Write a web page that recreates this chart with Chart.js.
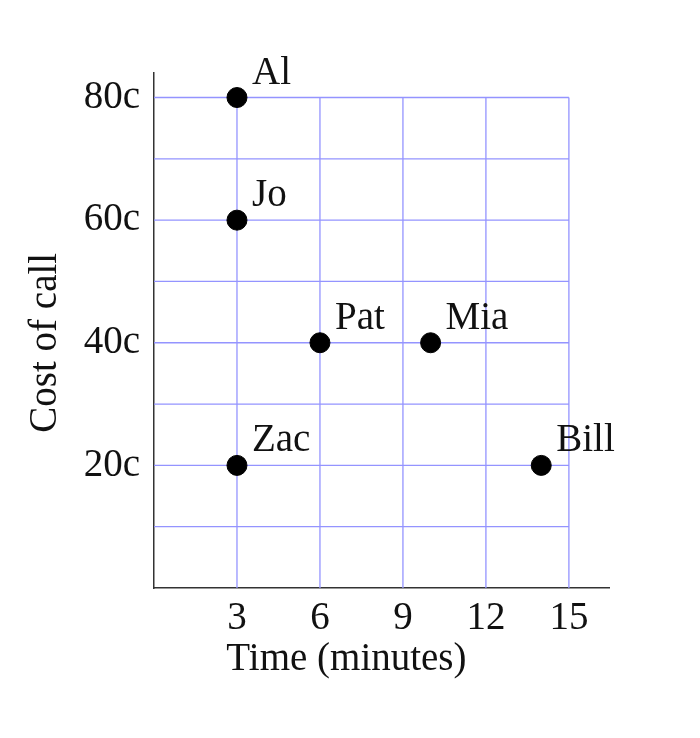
<!DOCTYPE html>
<html><head><meta charset="utf-8">
<script src="https://cdn.jsdelivr.net/npm/chart.js@4"></script>
<style>html,body{margin:0;padding:0;background:#fff}canvas{display:block}</style>
</head><body>
<canvas id="c" width="700" height="738" style="width:700px;height:738px"></canvas>
<script>
const names = ["Al","Jo","Pat","Mia","Zac","Bill"];
const minutes = [3,3,6,10,3,14];
const costs = [80,60,40,40,20,20];
const xTickValues = [3,6,9,12,15];
const yTickValues = [20,40,60,80];
const yGridValues = [10,20,30,40,50,60,70,80];
const xLabel = "Time (minutes)";
const yLabel = "Cost of call";

const FONT = "'Liberation Serif', 'DejaVu Serif', serif";
const FS = 39;

const gridPlugin = {
  id:'grid',
  beforeDatasetsDraw(chart){
    const {ctx, scales:{x,y}} = chart;
    const xMax = xTickValues[xTickValues.length-1];
    const yMax = yGridValues[yGridValues.length-1];
    ctx.save();
    ctx.strokeStyle = '#9494ff';
    ctx.lineWidth = 1.3;
    ctx.beginPath();
    xTickValues.forEach(v=>{
      const px = x.getPixelForValue(v);
      ctx.moveTo(px, y.getPixelForValue(0));
      ctx.lineTo(px, y.getPixelForValue(yMax));
    });
    yGridValues.forEach(v=>{
      const py = y.getPixelForValue(v);
      ctx.moveTo(x.getPixelForValue(0), py);
      ctx.lineTo(x.getPixelForValue(xMax), py);
    });
    ctx.stroke();
    ctx.restore();
  },
  afterDatasetsDraw(chart){
    const {ctx, scales:{x,y}} = chart;
    ctx.save();
    ctx.font = FS+'px '+FONT;
    ctx.fillStyle = '#111';
    ctx.textBaseline = 'alphabetic';
    ctx.textAlign = 'left';
    names.forEach((n,i)=>{
      ctx.fillText(n, x.getPixelForValue(minutes[i])+15, y.getPixelForValue(costs[i])-14);
    });
    ctx.textAlign = 'center';
    ctx.fillText(xLabel, (x.getPixelForValue(0)+x.getPixelForValue(15))/2 - 15, 670);
    ctx.translate(56, (y.getPixelForValue(0)+y.getPixelForValue(80))/2);
    ctx.rotate(-Math.PI/2);
    ctx.fillText(yLabel, 0, 0);
    ctx.restore();
  }
};

new Chart(document.getElementById('c'), {
  type:'scatter',
  data:{datasets:[{
    data: minutes.map((m,i)=>({x:m,y:costs[i]})),
    backgroundColor:'#000', borderColor:'#000', pointRadius:10, pointHoverRadius:10
  }]},
  options:{
    responsive:false, animation:false,
    layout:{padding:{left:34,right:91,top:73,bottom:90}},
    plugins:{legend:{display:false},tooltip:{enabled:false}},
    scales:{
      x:{type:'linear',min:0,max:16.45,
        afterBuildTicks:s=>{s.ticks = xTickValues.map(v=>({value:v}));},
        afterFit:s=>{s.height=60;},
        grid:{display:false,drawTicks:false},
        border:{display:true,color:'#333',width:1.5},
        ticks:{padding:7,color:'#111',font:{family:FONT,size:FS}},
      },
      y:{type:'linear',min:0,max:84,
        afterBuildTicks:s=>{s.ticks = yTickValues.map(v=>({value:v}));},
        afterFit:s=>{s.width=120;},
        grid:{display:false,drawTicks:false},
        border:{display:true,color:'#333',width:1.5},
        ticks:{padding:14,color:'#111',font:{family:FONT,size:FS},callback:v=>v+'c'}
      }
    }
  },
  plugins:[gridPlugin]
});
</script>
</body></html>
